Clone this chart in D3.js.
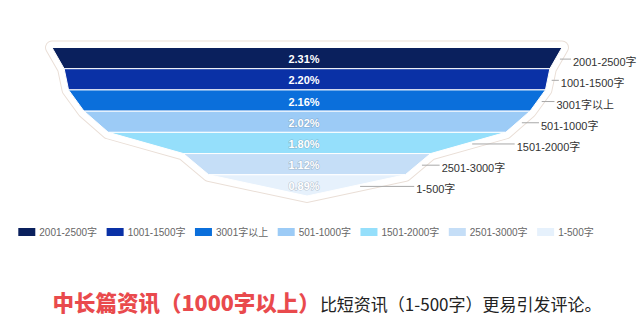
<!DOCTYPE html>
<html>
<head>
<meta charset="utf-8">
<script src="https://cdn.jsdelivr.net/npm/d3@7"></script>
<style>
  body { margin: 0; background: #fff; }
  svg { display: block; }
</style>
</head>
<body>
<div id="chart"></div>
<script>
// data
var categories = ["2001-2500字", "1001-1500字", "3001字以上", "501-1000字", "1501-2000字", "2501-3000字", "1-500字"];
var values = [2.31, 2.20, 2.16, 2.02, 1.80, 1.12, 0.89];
var colors = ["#0a205d", "#0a31a6", "#0b6fdb", "#9ccbf6", "#95dffb", "#c5def7", "#e6f1fc"];
var titleRed = "中长篇资讯（1000字以上）";
var titleBlack = "比短资讯（1-500字）更易引发评论。";

var svgWidth = 640, svgHeight = 334;
var centerX = 307;
var funnelTop = 47.5, funnelBottom = 196;

var svg = d3.select("#chart").append("svg")
  .attr("width", svgWidth)
  .attr("height", svgHeight);

// width of a row edge from its value
var w = d3.scaleLinear()
  .domain([0, d3.max(values)])
  .range([0, 510]);

// rows top to bottom
var y = d3.scaleBand()
  .domain(categories)
  .range([funnelTop, funnelBottom])
  .paddingInner(0);

var rows = categories.map(function(c, i) {
  var next = i + 1 < values.length ? values[i + 1] : 0;
  return {
    name: c,
    value: values[i],
    color: colors[i],
    y0: y(c),
    y1: y(c) + y.bandwidth(),
    topHalf: w(values[i]) / 2,
    botHalf: w(next) / 2
  };
});

// outer outline (white band with a thin beige edge)
var outline = [[centerX - rows[0].topHalf, funnelTop], [centerX + rows[0].topHalf, funnelTop]];
rows.forEach(function(r) { outline.push([centerX + r.botHalf, r.y1]); });
for (var i = rows.length - 1; i >= 0; i--) {
  outline.push([centerX - rows[i].botHalf, rows[i].y1]);
}
var line = d3.line().curve(d3.curveLinearClosed);

svg.append("path")
  .attr("d", line(outline))
  .attr("fill", "#fff")
  .attr("stroke", "#eadfd7")
  .attr("stroke-width", 14)
  .attr("stroke-linejoin", "round");
svg.append("path")
  .attr("d", line(outline))
  .attr("fill", "#fff")
  .attr("stroke", "#fff")
  .attr("stroke-width", 12)
  .attr("stroke-linejoin", "round");

// segments
svg.selectAll("path.seg")
  .data(rows)
  .enter()
  .append("path")
  .attr("class", "seg")
  .attr("d", function(r) {
    return line([
      [centerX - r.topHalf, r.y0],
      [centerX + r.topHalf, r.y0],
      [centerX + r.botHalf, r.y1],
      [centerX - r.botHalf, r.y1]
    ]);
  })
  .attr("fill", function(r) { return r.color; })
  .attr("stroke", "#fff")
  .attr("stroke-width", 1);

// percent labels inside
svg.selectAll("text.pct")
  .data(rows)
  .enter()
  .append("text")
  .attr("class", "pct")
  .attr("x", centerX - 3)
  .attr("y", function(r) { return (r.y0 + r.y1) / 2 + 1; })
  .attr("text-anchor", "middle")
  .attr("dominant-baseline", "central")
  .attr("font-family", "Liberation Sans, Arial, sans-serif")
  .attr("font-weight", "bold")
  .attr("font-size", "11px")
  .attr("fill", "#fff")
  .attr("stroke", function(r, i) { return i > 2 ? "rgba(90,110,130,0.35)" : "none"; })
  .attr("stroke-width", 1.2)
  .attr("paint-order", "stroke")
  .text(function(r) { return r.value.toFixed(2) + "%"; });

// outside labels with lines
function edgeX(r, yy) {
  var t = (yy - r.y0) / (r.y1 - r.y0);
  return centerX + r.topHalf + (r.botHalf - r.topHalf) * t;
}
var labels = svg.selectAll("g.lbl")
  .data(rows)
  .enter()
  .append("g")
  .attr("class", "lbl");

labels.append("line")
  .attr("x1", function(r) { return edgeX(r, (r.y0 + r.y1) / 2) + 4; })
  .attr("x2", function(r) { return centerX + r.topHalf + 9; })
  .attr("y1", function(r) { return (r.y0 + r.y1) / 2 + 1; })
  .attr("y2", function(r) { return (r.y0 + r.y1) / 2 + 1; })
  .attr("stroke", "#a8a8a8")
  .attr("stroke-width", 1);

labels.append("text")
  .attr("x", function(r) { return centerX + r.topHalf + 11; })
  .attr("y", function(r) { return (r.y0 + r.y1) / 2 + 4; })
  .attr("dominant-baseline", "central")
  .attr("font-family", "Liberation Sans, 'Noto Sans CJK SC', sans-serif")
  .attr("font-size", "11px")
  .attr("fill", "#333")
  .text(function(r) { return r.name; });

// legend
var legend = svg.append("g");
var items = legend.selectAll("g")
  .data(rows)
  .enter()
  .append("g");
items.append("rect")
  .attr("width", 17)
  .attr("height", 8)
  .attr("y", -4)
  .attr("fill", function(r) { return r.color; });
items.append("text")
  .attr("x", 21)
  .attr("dominant-baseline", "central")
  .attr("font-family", "Liberation Sans, 'Noto Sans CJK SC', sans-serif")
  .attr("font-size", "10px")
  .attr("fill", "#666")
  .text(function(r) { return r.name; });

var gap = 9.5;
var xPos = 0;
items.each(function() {
  var g = d3.select(this);
  var tw = g.select("text").node().getComputedTextLength();
  g.attr("transform", "translate(" + xPos + ",0)");
  xPos += 21 + tw + gap;
});
var legendW = xPos - gap;
legend.attr("transform", "translate(" + (306 - legendW / 2) + ",232)");

// caption
var cap = svg.append("text")
  .attr("x", 327)
  .attr("y", 311)
  .attr("text-anchor", "middle")
  .attr("font-family", "'Noto Sans CJK SC', sans-serif");
cap.append("tspan")
  .attr("font-size", "21.5px")
  .attr("font-weight", "900")
  .attr("fill", "#e94a4d")
  .text(titleRed);
cap.append("tspan")
  .attr("font-size", "17px")
  .attr("fill", "#222")
  .text(titleBlack);
</script>
</body>
</html>
